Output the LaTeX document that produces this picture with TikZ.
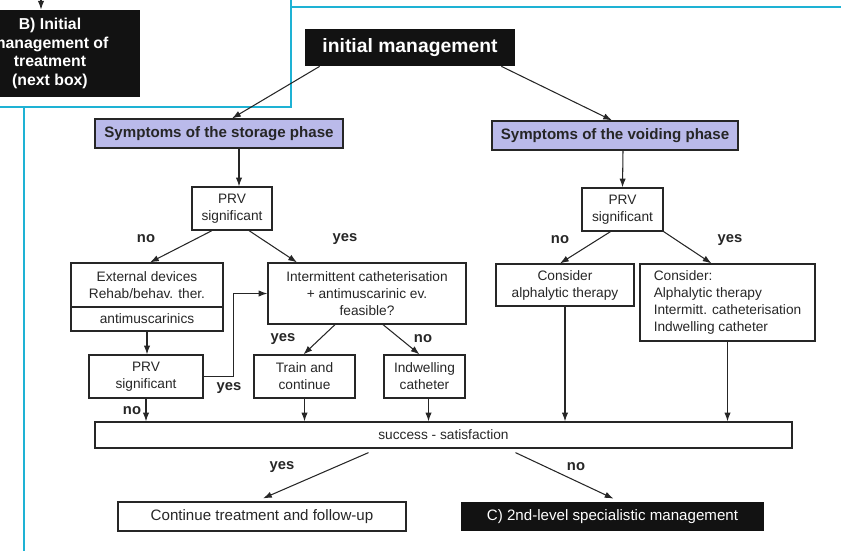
\documentclass[tikz,border=0pt]{standalone}
\usepackage{fontspec}
\setmainfont{Liberation Sans}
\usetikzlibrary{calc,arrows.meta}

\definecolor{frameblue}{RGB}{30,178,212}
\definecolor{lavender}{RGB}{186,186,234}
\definecolor{ink}{RGB}{38,38,38}
\newcommand{\pxu}{0.02cm}

\tikzset{
  box/.style={draw=ink, line width=0.7pt, text=ink, align=center, inner sep=1pt,
    font=\fontsize{7.8}{9.7}\selectfont},
  bigbox/.style={box, font=\fontsize{8.6}{10}\selectfont},
  phase/.style={box, fill=lavender, font=\fontsize{8.6}{10}\selectfont\bfseries},
  dark/.style={fill=black!93, text=white, align=center, inner sep=0pt},
  lbl/.style={text=ink, font=\fontsize{8.4}{10}\selectfont\bfseries},
  arr/.style={-{Latex[length=5pt,width=3.6pt]}, draw=ink, line width=0.6pt},
  frame/.style={draw=frameblue, line width=1.1pt},
}

\begin{document}
\begin{tikzpicture}[x=0.02cm, y=-0.02cm]

	\useasboundingbox (0,0) rectangle (841,551);
	\clip (0,0) rectangle (841,551);

	%blue frames of the page boxes
	\draw [frame] (0,107) -- (291,107) -- (291,0);
	\draw [frame] (291,7) -- (841,7);
	\draw [frame] (24,107) -- (24,551);

	%box B from the previous part
	\node [dark, minimum width=180*\pxu, minimum height=87*\pxu,
		font=\fontsize{9}{10.5}\selectfont\bfseries] (bbox) at (50,53.5)
		{B) Initial\\management of\\treatment\\(next box)};
	\coordinate (btop) at (41,0);
	\draw [arr] (btop) -- (btop |- bbox.north);

	%head of the chart
	\node [dark, minimum width=210*\pxu, minimum height=37*\pxu,
		font=\fontsize{11}{12}\selectfont\bfseries] (init) at (410,47.5) {initial management};

	%the two phases
	\node [phase, minimum width=248*\pxu, minimum height=29*\pxu] (stor) at (219,133.5) {Symptoms of the storage phase};
	\node [phase, minimum width=246*\pxu, minimum height=29*\pxu] (void) at (615,135.5) {Symptoms of the voiding phase};

	\draw [arr] ($(init.south west)+(15,0)$) -- ($(stor.north)+(13,0)$);
	\draw [arr] ($(init.south east)+(-14,0)$) -- ($(void.north)+(-3,0)$);

	%storage branch
	\node [box, minimum width=80*\pxu, minimum height=43*\pxu] (prv1) at (232,208.5) {PRV\\significant};
	\node [box, minimum width=152*\pxu, minimum height=44*\pxu] (ext) at (147,285) {External devices\\Rehab/behav. ther.};
	\node [box, minimum width=152*\pxu, minimum height=24*\pxu] (antim) at (147,319) {antimuscarinics};
	\node [box, minimum width=198*\pxu, minimum height=61*\pxu] (inter) at (367,293.5) {Intermittent catheterisation\\+ antimuscarinic ev.\\feasible?};
	\node [box, minimum width=114*\pxu, minimum height=43*\pxu] (prv2) at (146,376.5) {PRV\\significant};
	\node [box, minimum width=101*\pxu, minimum height=43*\pxu] (train) at (304.5,376.5) {Train and\\continue};
	\node [box, minimum width=81*\pxu, minimum height=43*\pxu] (indw) at (424.5,376.5) {Indwelling\\catheter};

	\draw [arr] ($(stor.south)+(20,0)$) -- ($(prv1.north)+(7,0)$);
	\draw [arr] ($(prv1.south)+(-20,0)$) -- ($(ext.north)+(3,0)$);
	\draw [arr] ($(prv1.south)+(17,0)$) -- ($(inter.north)+(-70,0)$);
	\draw [arr] (antim.south) -- (antim.south |- prv2.north);
	\draw [arr] (prv2.east) -- ++(30,0) |- (inter.west);
	\draw [arr] ($(inter.south)+(-32,0)$) -- ($(train.north)+(-1,0)$);
	\draw [arr] ($(inter.south)+(16,0)$) -- ($(indw.north)+(-5,0)$);

	\node [lbl] (s-no)  at (146,239) {no};
	\node [lbl] (s-yes) at (345,239) {yes};
	\node [lbl] (f-yes) at (283,339) {yes};
	\node [lbl] (f-no)  at (423,339) {no};
	\node [lbl] (p-yes) at (229,388) {yes};
	\node [lbl] (p-no)  at (132,411) {no};

	%voiding branch
	\node [box, minimum width=81*\pxu, minimum height=43*\pxu] (prv3) at (622.5,209.5) {PRV\\significant};
	\node [box, minimum width=138*\pxu, minimum height=42*\pxu] (consA) at (565,285) {Consider\\alphalytic therapy};
	\node [box, minimum width=175*\pxu, minimum height=77*\pxu, align=left] (consB) at (727.5,302.5)
		{Consider:\\Alphalytic therapy\\Intermitt. catheterisation\\Indwelling catheter};

	\draw [arr] ($(void.south)+(8,0)$) -- (prv3.north);
	\draw [arr] ($(prv3.south)+(-12,0)$) -- ($(consA.north)+(-5,0)$);
	\draw [arr] (prv3.south east) -- ($(consB.north)+(-16,0)$);

	\node [lbl] (v-no)  at (560,240) {no};
	\node [lbl] (v-yes) at (730,240) {yes};

	%outcome
	\node [box, minimum width=697*\pxu, minimum height=26*\pxu] (succ) at (443.5,435) {success - satisfaction};

	\draw [arr] (prv2.south) -- (prv2.south |- succ.north);
	\draw [arr] (train.south) -- (train.south |- succ.north);
	\draw [arr] ($(indw.south)+(4,0)$) coordinate (t) -- (t |- succ.north);
	\draw [arr] (consA.south) -- (consA.south |- succ.north);
	\draw [arr] (consB.south) -- (consB.south |- succ.north);

	\node [bigbox, minimum width=288*\pxu, minimum height=29*\pxu] (cont) at (262,516.5) {Continue treatment and follow-up};
	\node [dark, minimum width=303*\pxu, minimum height=29*\pxu, font=\fontsize{8.6}{10}\selectfont] (spec) at (612.5,516.5) {C) 2nd-level specialistic management};

	\draw [arr] ($(succ.south)+(-75,4)$) -- ($(cont.north)+(1,-3)$);
	\draw [arr] ($(succ.south)+(72,4)$) -- ($(spec.north)+(1,-3)$);

	\node [lbl] (o-yes) at (282,467) {yes};
	\node [lbl] (o-no)  at (576,467) {no};

\end{tikzpicture}
\end{document}
